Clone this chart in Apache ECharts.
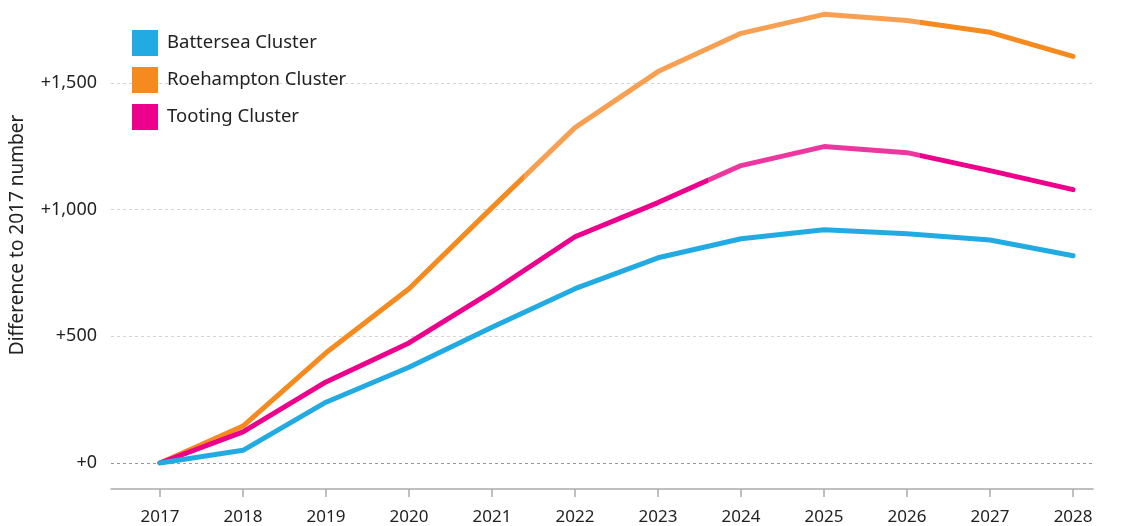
<!DOCTYPE html>
<html>
<head>
<meta charset="utf-8">
<title>Difference to 2017 number</title>
<script src="https://cdn.jsdelivr.net/npm/echarts@6/dist/echarts.min.js"></script>
<style>
  html, body { margin: 0; padding: 0; background: #fff; }
  #chart { width: 1121px; height: 526px; }
</style>
</head>
<body>
<div id="chart"></div>
<script>
var years = [2017, 2018, 2019, 2020, 2021, 2022, 2023, 2024, 2025, 2026, 2027, 2028]
var battersea = [0, 50, 240, 378, 536, 688, 810, 885, 921, 905, 880, 818]
var roehampton = [0, 146, 435, 688, 1008, 1324, 1545, 1696, 1771, 1747, 1700, 1605]
var tooting = [0, 123, 320, 474, 676, 893, 1028, 1174, 1249, 1225, 1154, 1079]
var yTicks = [0, 500, 1000, 1500]

var blue = '#22abe2'
var orange = '#f58a1f'
var orangeLight = '#f7a052'
var pink = '#ec008c'
var pinkLight = '#ee36a1'

function pairs (vals) {
  return years.map(function (y, i) { return [y, vals[i]] })
}

function fmt (v) {
  return '+' + v.toLocaleString('en-US')
}

var font = '"Noto Sans", "Open Sans", sans-serif'

var chart = echarts.init(document.getElementById('chart'))
chart.setOption({
  animation: false,
  grid: { left: 110, right: 28, top: 7, bottom: 63 },
  legend: {
    orient: 'vertical',
    left: 127,
    top: 25,
    icon: 'rect',
    itemWidth: 26,
    itemHeight: 26,
    itemGap: 11,
    data: ['Battersea Cluster', 'Roehampton Cluster', 'Tooting Cluster'],
    textStyle: { fontFamily: font, fontSize: 18.5, color: '#222', padding: [0, 0, 0, 4] }
  },
  // lighter stretches of the lines, as in the original picture
  visualMap: [{
    show: false,
    seriesIndex: 0,
    dimension: 0,
    pieces: [
      { lt: 2021.38, color: orange },
      { gte: 2021.38, lt: 2026.16, color: orangeLight },
      { gte: 2026.16, color: orange }
    ]
  }, {
    show: false,
    seriesIndex: 1,
    dimension: 0,
    pieces: [
      { lt: 2023.6, color: pink },
      { gte: 2023.6, lt: 2026.16, color: pinkLight },
      { gte: 2026.16, color: pink }
    ]
  }],
  xAxis: {
    type: 'value',
    min: 2016.41,
    max: 2028.24,
    offset: 26,
    axisLine: { show: true, onZero: false, lineStyle: { color: '#aaa', width: 1.5 } },
    axisTick: { show: true, customValues: years, length: 8, lineStyle: { color: '#aaa', width: 1.5 } },
    axisLabel: {
      customValues: years,
      margin: 20,
      fontFamily: font,
      fontSize: 17,
      color: '#222',
      formatter: function (v) { return String(v) }
    },
    splitLine: { show: false }
  },
  yAxis: {
    type: 'value',
    min: 0,
    max: 1800,
    interval: 500,
    name: 'Difference to 2017 number',
    nameLocation: 'middle',
    nameGap: 84,
    nameTextStyle: { fontFamily: font, fontSize: 19, color: '#222' },
    axisLine: { show: false },
    axisTick: { show: false },
    axisLabel: {
      showMaxLabel: false,
      margin: 14,
      fontFamily: font,
      fontSize: 18,
      color: '#222',
      formatter: function (v) { return yTicks.indexOf(v) >= 0 ? fmt(v) : '' }
    },
    splitLine: {
      show: true,
      showMaxLine: false,
      lineStyle: { color: ['#999', '#d4d4d4', '#d4d4d4', '#d4d4d4'], type: [3, 3], width: 1 }
    }
  },
  series: [{
    name: 'Roehampton Cluster',
    type: 'line',
    data: pairs(roehampton),
    showSymbol: false,
    itemStyle: { color: orange },
    lineStyle: { width: 5, cap: 'round', join: 'round' }
  }, {
    name: 'Tooting Cluster',
    type: 'line',
    data: pairs(tooting),
    showSymbol: false,
    itemStyle: { color: pink },
    lineStyle: { width: 5, cap: 'round', join: 'round' }
  }, {
    name: 'Battersea Cluster',
    type: 'line',
    data: pairs(battersea),
    showSymbol: false,
    itemStyle: { color: blue },
    lineStyle: { color: blue, width: 5, cap: 'round', join: 'round' }
  }]
})
window.onresize = chart.resize
</script>
</body>
</html>
